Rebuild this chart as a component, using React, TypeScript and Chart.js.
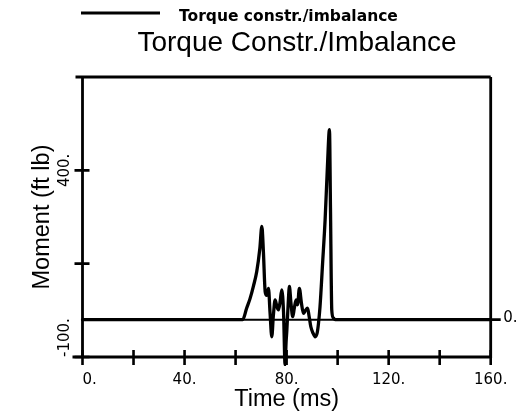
import React, { useEffect, useRef } from "react";
import { Chart, registerables } from "chart.js";

Chart.register(...registerables);

const chartTitle = "Torque Constr./Imbalance";
const seriesLabel = "Torque constr./imbalance";
const xAxisTitle = "Time (ms)";
const yAxisTitle = "Moment (ft lb)";

const timeMs = [
  0, 62.8, 64.3, 65.7, 67, 68.3, 69.5, 70.3, 70.9, 71.6, 72.2, 72.9, 73.5, 74.2, 74.8,
  75.5, 76.2, 76.8, 77.5, 78.1, 78.8, 79.4, 79.8, 80.1, 80.6, 81.1, 81.7, 82.4, 83.0,
  83.7, 84.3, 85.0, 85.8, 86.6, 87.4, 88.2, 88.8, 89.5, 90.3, 91.2, 92.0, 92.5, 93.1,
  94.1, 95.1, 96.0, 96.8, 97.2, 97.7, 98.3, 99.0, 160,
];
const momentFtLb = [
  0, 0, 30, 57, 90, 129, 190, 250, 183, 75, 65, 84, 20, -46, 10,
  53, 35, 26, 50, 80, 20, -120, -60, -28, 40, 89, 45, 8, 30,
  53, 40, 84, 45, 17, 25, 31, 10, -19, -35, -46, -35, -10, 35,
  150, 268, 410, 509, 300, 26, 5, 0, 0,
];

const xTickValues = [0, 20, 40, 60, 80, 100, 120, 140, 160];
const xTickLabels = ["0.", "", "40.", "", "80.", "", "120.", "", "160."];
const yTickValues = [-100, 150, 400];
const yTickLabels = ["-100.", "", "400."];
const rightTickValues = [0];
const rightTickLabels = ["0."];

const X_MIN = 0;
const X_MAX = 160;
const Y_MIN = -100;
const Y_MAX = 650;

const decorPlugin = {
  id: "decor",
  beforeDatasetsDraw(chart: any) {
    const { ctx, chartArea } = chart;
    const xs = chart.scales.x;
    const ys = chart.scales.y;
    const { left, right, top, bottom } = chartArea;
    ctx.save();
    ctx.strokeStyle = "#000";
    ctx.lineCap = "butt";
    ctx.lineWidth = 2;
    const y0 = ys.getPixelForValue(0);
    ctx.beginPath();
    ctx.moveTo(left, y0);
    ctx.lineTo(right, y0);
    ctx.stroke();
    ctx.lineWidth = 2.8;
    ctx.beginPath();
    ctx.moveTo(left - 7, top);
    ctx.lineTo(right, top);
    ctx.moveTo(left, top);
    ctx.lineTo(left, bottom);
    ctx.moveTo(left - 10, bottom);
    ctx.lineTo(right, bottom);
    ctx.moveTo(right, top);
    ctx.lineTo(right, bottom + 1);
    ctx.stroke();
    ctx.lineWidth = 2.6;
    ctx.beginPath();
    xTickValues.forEach((v) => {
      const px = xs.getPixelForValue(v);
      ctx.moveTo(px, bottom - 7);
      ctx.lineTo(px, bottom + 8);
    });
    yTickValues.forEach((v) => {
      const py = ys.getPixelForValue(v);
      ctx.moveTo(left - 8, py);
      ctx.lineTo(left + 7, py);
    });
    rightTickValues.forEach((v) => {
      const py = ys.getPixelForValue(v);
      ctx.moveTo(right, py);
      ctx.lineTo(right + 10, py);
    });
    ctx.stroke();
    ctx.restore();
  },
  afterDraw(chart: any) {
    const { ctx, chartArea } = chart;
    const xs = chart.scales.x;
    const ys = chart.scales.y;
    const { left, right, top, bottom } = chartArea;
    ctx.save();
    ctx.fillStyle = "#000";
    ctx.textBaseline = "alphabetic";
    ctx.font = "15px 'DejaVu Sans'";
    xTickValues.forEach((v, i) => {
      const lbl = xTickLabels[i];
      if (!lbl) return;
      const px = xs.getPixelForValue(v);
      ctx.textAlign = i === 0 ? "left" : "center";
      ctx.fillText(lbl, px, bottom + 27);
    });
    yTickValues.forEach((v, i) => {
      const lbl = yTickLabels[i];
      if (!lbl) return;
      const py = ys.getPixelForValue(v);
      ctx.save();
      ctx.translate(left - 14, py);
      ctx.rotate(-Math.PI / 2);
      ctx.textAlign = i === 0 ? "left" : "center";
      ctx.fillText(lbl, 0, 0);
      ctx.restore();
    });
    rightTickValues.forEach((v, i) => {
      const py = ys.getPixelForValue(v);
      ctx.textAlign = "left";
      ctx.fillText(rightTickLabels[i], right + 12.5, py + 2);
    });
    ctx.font = "23.5px 'Liberation Sans'";
    ctx.textAlign = "center";
    ctx.fillText(xAxisTitle, (left + right) / 2, 406);
    ctx.save();
    ctx.translate(48.5, (top + bottom) / 2);
    ctx.rotate(-Math.PI / 2);
    ctx.fillText(yAxisTitle, 0, 0);
    ctx.restore();
    ctx.font = "28px 'Liberation Sans'";
    ctx.textAlign = "center";
    ctx.fillText(chartTitle, 297, 51);
    const ds = chart.data.datasets[0];
    ctx.strokeStyle = "#000";
    ctx.lineWidth = 2.8;
    ctx.beginPath();
    ctx.moveTo(81, 13);
    ctx.lineTo(160, 13);
    ctx.stroke();
    ctx.font = "bold 15.5px 'DejaVu Sans'";
    ctx.textAlign = "left";
    ctx.fillText(ds.label, 179, 21);
    ctx.restore();
  },
};

export default function App() {
  const canvasRef = useRef<HTMLCanvasElement | null>(null);

  useEffect(() => {
    const canvas = canvasRef.current;
    if (!canvas) return;
    const chart = new Chart(canvas, {
      type: "line",
      data: {
        datasets: [
          {
            label: seriesLabel,
            data: timeMs.map((t, i) => ({ x: t, y: momentFtLb[i] })),
            borderColor: "#000",
            backgroundColor: "#000",
            borderWidth: 3.3,
            borderJoinStyle: "round",
            borderCapStyle: "round",
            pointRadius: 0,
            cubicInterpolationMode: "monotone",
            fill: false,
            clip: false as any,
          },
        ],
      },
      options: {
        animation: false,
        responsive: false,
        maintainAspectRatio: false,
        events: [],
        layout: { padding: { left: 82.5, right: 39.3, top: 77, bottom: 60 } },
        plugins: {
          legend: { display: false },
          title: { display: false },
          tooltip: { enabled: false },
        },
        scales: {
          x: { type: "linear", min: X_MIN, max: X_MAX, display: false },
          y: { type: "linear", min: Y_MIN, max: Y_MAX, display: false },
        },
      },
      plugins: [decorPlugin],
    });
    return () => chart.destroy();
  }, []);

  return (
    <div style={{ position: "absolute", left: 0, top: 0, width: 530, height: 417, background: "#fff" }}>
      <canvas ref={canvasRef} width={530} height={417} style={{ display: "block", width: 530, height: 417 }} />
    </div>
  );
}
